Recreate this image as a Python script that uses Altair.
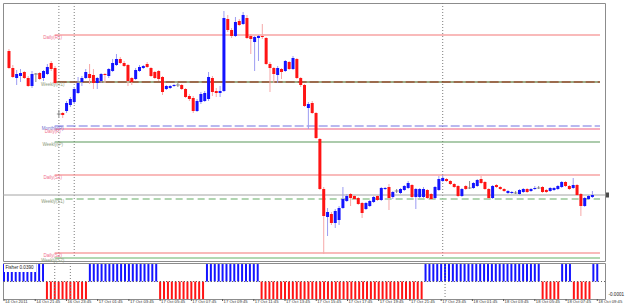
import altair as alt
import pandas as pd

# ---------------- data (15-minute candles) ----------------
open_ = [1.3850, 1.3833, 1.3823, 1.3825, 1.3829, 1.3823, 1.3815, 1.3827, 1.3828, 1.3823, 1.3827, 1.3838, 1.3833,
         1.3787, 1.3788, 1.3790, 1.3796, 1.3799, 1.3808, 1.3819, 1.3823,
         1.3827, 1.3826, 1.3818, 1.3820, 1.3827, 1.3825, 1.3830, 1.3836, 1.3842, 1.3838,
         1.3836, 1.3823, 1.3822, 1.3830, 1.3833, 1.3837, 1.3833, 1.3829, 1.3830, 1.3824,
         1.3812, 1.3813, 1.3815, 1.3816, 1.3816, 1.3812, 1.3805, 1.3803, 1.3790, 1.3799,
         1.3800, 1.3802, 1.3823, 1.3810, 1.3808, 1.3810, 1.3882, 1.3871, 1.3865, 1.3880,
         1.3877, 1.3883, 1.3865, 1.3859, 1.3863, 1.3865, 1.3863, 1.3837, 1.3833, 1.3826,
         1.3832, 1.3830, 1.3839, 1.3832, 1.3842, 1.3823, 1.3816, 1.3793, 1.3798, 1.3788,
         1.3762, 1.3712, 1.3684, 1.3687, 1.3678, 1.3681, 1.3693, 1.3700, 1.3707, 1.3705,
         1.3703, 1.3698, 1.3692, 1.3695, 1.3699, 1.3705, 1.3701, 1.3712, 1.3714, 1.3704,
         1.3710, 1.3708, 1.3711, 1.3713, 1.3716, 1.3704, 1.3704, 1.3704, 1.3711, 1.3707,
         1.3703, 1.3711, 1.3720, 1.3722, 1.3720, 1.3717, 1.3715, 1.3705, 1.3715, 1.3713,
         1.3713, 1.3715, 1.3722, 1.3719, 1.3712, 1.3703, 1.3716, 1.3714, 1.3712, 1.3708,
         1.3708, 1.3708, 1.3707, 1.3709, 1.3712, 1.3710, 1.3712, 1.3713, 1.3714, 1.3711,
         1.3710, 1.3711, 1.3712, 1.3714, 1.3719, 1.3715, 1.3713, 1.3716, 1.3707, 1.3695, 1.3702, 1.3704]

close = [1.3833, 1.3824, 1.3827, 1.3828, 1.3823, 1.3815, 1.3827, 1.3827, 1.3822, 1.3830, 1.3834, 1.3832, 1.3818,
         1.3787, 1.3786, 1.3798, 1.3802, 1.3812, 1.3818, 1.3823, 1.3829,
         1.3823, 1.3818, 1.3823, 1.3827, 1.3826, 1.3832, 1.3838, 1.3842, 1.3838, 1.3835,
         1.3820, 1.3819, 1.3831, 1.3834, 1.3835, 1.3834, 1.3825, 1.3823, 1.3822, 1.3809,
         1.3815, 1.3815, 1.3816, 1.3816, 1.3812, 1.3804, 1.3802, 1.3790, 1.3800, 1.3807,
         1.3808, 1.3824, 1.3809, 1.3808, 1.3810, 1.3883, 1.3871, 1.3865, 1.3879, 1.3876,
         1.3886, 1.3863, 1.3862, 1.3864, 1.3865, 1.3864, 1.3837, 1.3833, 1.3827, 1.3833,
         1.3829, 1.3840, 1.3832, 1.3843, 1.3823, 1.3816, 1.3795, 1.3797, 1.3788, 1.3763,
         1.3712, 1.3685, 1.3689, 1.3678, 1.3690, 1.3693, 1.3702, 1.3705, 1.3703, 1.3702,
         1.3697, 1.3688, 1.3698, 1.3700, 1.3704, 1.3701, 1.3713, 1.3713, 1.3703, 1.3709,
         1.3710, 1.3712, 1.3715, 1.3718, 1.3704, 1.3712, 1.3712, 1.3712, 1.3703, 1.3702,
         1.3714, 1.3722, 1.3723, 1.3720, 1.3717, 1.3714, 1.3705, 1.3712, 1.3712, 1.3713,
         1.3718, 1.3721, 1.3718, 1.3712, 1.3703, 1.3715, 1.3714, 1.3712, 1.3710, 1.3710,
         1.3709, 1.3708, 1.3711, 1.3712, 1.3709, 1.3712, 1.3713, 1.3713, 1.3709, 1.3709,
         1.3713, 1.3713, 1.3715, 1.3719, 1.3715, 1.3712, 1.3716, 1.3706, 1.3695, 1.3703, 1.3705, 1.3706]

high = [1.3852, 1.3836, 1.3831, 1.3832, 1.3830, 1.3825, 1.3830, 1.3828, 1.3829, 1.3831, 1.3837, 1.3840, 1.3835,
        1.3791, 1.3789, 1.3800, 1.3804, 1.3814, 1.3824, 1.3825, 1.3832,
        1.3837, 1.3832, 1.3824, 1.3828, 1.3828, 1.3833, 1.3842, 1.3847, 1.3844, 1.3840,
        1.3837, 1.3824, 1.3833, 1.3836, 1.3836, 1.3839, 1.3834, 1.3830, 1.3831, 1.3825,
        1.3816, 1.3816, 1.3817, 1.3818, 1.3817, 1.3813, 1.3807, 1.3805, 1.3802, 1.3809,
        1.3810, 1.3829, 1.3825, 1.3813, 1.3815, 1.3890, 1.3886, 1.3873, 1.3884, 1.3882,
        1.3889, 1.3886, 1.3867, 1.3865, 1.3866, 1.3877, 1.3864, 1.3839, 1.3834, 1.3835,
        1.3833, 1.3841, 1.3840, 1.3845, 1.3843, 1.3824, 1.3817, 1.3799, 1.3800, 1.3789,
        1.3763, 1.3714, 1.3693, 1.3689, 1.3692, 1.3695, 1.3714, 1.3707, 1.3708, 1.3706,
        1.3704, 1.3699, 1.3699, 1.3701, 1.3705, 1.3706, 1.3714, 1.3714, 1.3717, 1.3710,
        1.3712, 1.3713, 1.3716, 1.3720, 1.3717, 1.3713, 1.3713, 1.3714, 1.3712, 1.3708,
        1.3715, 1.3725, 1.3726, 1.3723, 1.3721, 1.3718, 1.3716, 1.3713, 1.3716, 1.3720,
        1.3719, 1.3722, 1.3725, 1.3720, 1.3713, 1.3716, 1.3717, 1.3715, 1.3713, 1.3711,
        1.3710, 1.3710, 1.3712, 1.3713, 1.3713, 1.3713, 1.3715, 1.3715, 1.3715, 1.3712,
        1.3714, 1.3714, 1.3716, 1.3720, 1.3720, 1.3716, 1.3723, 1.3717, 1.3708, 1.3704, 1.3706, 1.3710]

low = [1.3832, 1.3823, 1.3816, 1.3819, 1.3822, 1.3814, 1.3813, 1.3819, 1.3821, 1.3820, 1.3826, 1.3830, 1.3817,
       1.3784, 1.3783, 1.3788, 1.3794, 1.3797, 1.3807, 1.3815, 1.3822,
       1.3817, 1.3812, 1.3812, 1.3818, 1.3818, 1.3823, 1.3829, 1.3835, 1.3837, 1.3834,
       1.3815, 1.3816, 1.3821, 1.3829, 1.3832, 1.3833, 1.3824, 1.3822, 1.3820, 1.3806,
       1.3811, 1.3812, 1.3814, 1.3814, 1.3811, 1.3803, 1.3800, 1.3788, 1.3789, 1.3797,
       1.3799, 1.3800, 1.3805, 1.3804, 1.3804, 1.3809, 1.3869, 1.3863, 1.3864, 1.3875,
       1.3876, 1.3862, 1.3847, 1.3830, 1.3840, 1.3862, 1.3836, 1.3809, 1.3818, 1.3818,
       1.3822, 1.3829, 1.3831, 1.3831, 1.3822, 1.3814, 1.3794, 1.3772, 1.3787, 1.3762,
       1.3711, 1.3647, 1.3665, 1.3676, 1.3673, 1.3676, 1.3692, 1.3699, 1.3695, 1.3701,
       1.3696, 1.3683, 1.3691, 1.3694, 1.3698, 1.3700, 1.3700, 1.3711, 1.3691, 1.3702,
       1.3708, 1.3707, 1.3710, 1.3712, 1.3703, 1.3692, 1.3703, 1.3703, 1.3702, 1.3701,
       1.3702, 1.3710, 1.3719, 1.3719, 1.3716, 1.3713, 1.3704, 1.3704, 1.3711, 1.3712,
       1.3712, 1.3714, 1.3717, 1.3711, 1.3702, 1.3702, 1.3713, 1.3711, 1.3709, 1.3707,
       1.3707, 1.3707, 1.3706, 1.3708, 1.3708, 1.3709, 1.3711, 1.3712, 1.3708, 1.3708,
       1.3709, 1.3710, 1.3711, 1.3713, 1.3714, 1.3711, 1.3712, 1.3705, 1.3685, 1.3694, 1.3701, 1.3703]

# Fisher histogram (sign only - every bar fills the sub-window)
fisher = [1, 1, 1, 1, 1, 1, 1, 1, 1, 1, 1,
          -1, -1, -1, -1, -1, -1, -1, -1, -1, -1, -1,
          1, 1, 1, 1, 1, 1, 1, 1, 1, 1, 1, 1, 1, 1, 1, 1, 1, 1,
          -1, -1, -1, -1, -1, -1, -1, -1, -1, -1, -1, -1,
          1, 1, 1, 1, 1, 1, 1, 1, 1, 1, 1, 1, 1, 1,
          -1, -1, -1, -1, -1, -1, -1, -1, -1, -1, -1, -1, -1, -1, -1, -1, -1, -1, -1, -1, -1,
          -1, -1, -1, -1, -1, -1, -1, -1, -1, -1, -1, -1, -1, -1, -1, -1, -1, -1, -1, -1, -1,
          1, 1, 1, 1, 1, 1, 1, 1, 1, 1, 1, 1, 1, 1, 1, 1, 1, 1, 1, 1, 1, 1, 1, 1, 1, 1, 1, 1, 1, 1,
          -1, -1, -1, -1, -1,
          1, 1, 1,
          -1, -1, -1, -1, -1,
          1, 1]

# time-axis labels (bar index -> text)
label_idx = [0, 8, 16, 24, 32, 40, 48, 56, 64, 72, 80, 88, 96, 104, 112, 120, 128, 136, 144, 152]
label_txt = ["14 Oct 2011", "14 Oct 21:45", "16 Oct 23:45", "17 Oct 01:45", "17 Oct 03:45",
             "17 Oct 05:45", "17 Oct 07:45", "17 Oct 09:45", "17 Oct 11:45", "17 Oct 13:45",
             "17 Oct 15:45", "17 Oct 17:45", "17 Oct 19:45", "17 Oct 21:45", "17 Oct 23:45",
             "18 Oct 01:45", "18 Oct 03:45", "18 Oct 05:45", "18 Oct 07:45", "18 Oct 09:45"]

# period separators (bar index)
separators = [13, 17, 113]

# pivot levels
level_names = ["Daily(R1)", "Weekly(R1)", "Monthly(P)", "Daily(P)", "Weekly(P)",
               "Daily(S1)", "Weekly(S1)", "Daily(S2)", "Weekly(S2)"]
level_prices = [1.3866, 1.3819, 1.3775, 1.3772, 1.3759, 1.3726, 1.3702, 1.3648, 1.3643]
bid_price = 1.3706
level_start = 11.9

# ---------------- styling ----------------
FONT = "Liberation Sans"
W, H_MAIN, H_SUB = 602, 258, 36
XDOM = [-0.256, 153.98]
YDOM = [1.3640, 1.3898]

line_style = {
    "Daily(R1)": ("#f47676", 1.2, None),
    "Weekly(R1)": ("#7a3a12", 1.6, None),
    "Monthly(P)": ("#7272e2", 1.2, [9, 3]),
    "Daily(P)": ("#f494aa", 1.6, None),
    "Weekly(P)": ("#5a985a", 1.1, None),
    "Daily(S1)": ("#f47676", 1.2, None),
    "Weekly(S1)": ("#98c898", 1.5, [7, 4]),
    "Daily(S2)": ("#f47676", 1.2, None),
    "Weekly(S2)": ("#b2d8b2", 2.0, None),
}
label_color = {"Daily": "#f0708e", "Weekly": "#8c9a7c", "Monthly": "#7070d0"}

idx = list(range(len(open_)))
bars = pd.DataFrame({"i": idx, "open": open_, "high": high, "low": low, "close": close})
bars["dir"] = ["up" if c > o else ("down" if c < o else "doji") for o, c in zip(open_, close)]
bars["wick_col"] = bars["dir"].map({"up": "#9c9cf2", "down": "#f6a8a8", "doji": "#8c8c8c"})
bars["body_col"] = bars["dir"].map({"up": "#1414ff", "down": "#ff1414", "doji": "#707070"})

xs = alt.Scale(domain=XDOM, nice=False, zero=False)
ys = alt.Scale(domain=YDOM, nice=False, zero=False)
ytick_vals = [round(1.38927 - 0.001568 * k, 5) for k in range(17)]

X = alt.X("i:Q", scale=xs, axis=None)

sep_df = pd.DataFrame({"i": separators})
seps = alt.Chart(sep_df).mark_rule(color="#7c7c7c", strokeWidth=1, strokeDash=[1, 2]).encode(x=X)

layers = [seps]
for name, price in zip(level_names, level_prices):
    col, sw, dash = line_style[name]
    d = pd.DataFrame({"x0": [level_start], "x1": [XDOM[1]], "p": [price]})
    kw = dict(color=col, strokeWidth=sw)
    if dash:
        kw["strokeDash"] = dash
    layers.append(alt.Chart(d).mark_rule(**kw).encode(
        x=alt.X("x0:Q", scale=xs, axis=None), x2="x1:Q",
        y=alt.Y("p:Q", scale=ys, axis=None)))
    if name == "Weekly(R1)":
        layers.append(alt.Chart(d).mark_rule(color="#9cc49c", strokeWidth=1.6, strokeDash=[3, 9]).encode(
            x=alt.X("x0:Q", scale=xs, axis=None), x2="x1:Q",
            y=alt.Y("p:Q", scale=ys, axis=None)))

lab_df = pd.DataFrame({"name": level_names, "p": level_prices, "x": [11.4] * len(level_names)})
lab_df["col"] = [label_color[n.split("(")[0]] for n in level_names]
labels = alt.Chart(lab_df).mark_text(font=FONT, fontSize=4.5, align="center", baseline="middle", dy=3).encode(
    x=alt.X("x:Q", scale=xs, axis=None), y=alt.Y("p:Q", scale=ys, axis=None),
    text="name:N", color=alt.Color("col:N", scale=None))
layers.append(labels)

bid_df = pd.DataFrame({"p": [bid_price]})
layers.append(alt.Chart(bid_df).mark_rule(color="#a4a4a4", strokeWidth=1).encode(
    y=alt.Y("p:Q", scale=ys, axis=None)))

wicks = alt.Chart(bars).mark_rule(strokeWidth=1).encode(
    x=X,
    y=alt.Y("low:Q", scale=ys, axis=alt.Axis(orient="right", values=ytick_vals, labels=False, tickSize=3,
                                              title=None, grid=False, domainColor="#6c6c88",
                                              tickColor="#6c6c88", domainWidth=1.2)),
    y2="high:Q",
    color=alt.Color("wick_col:N", scale=None))
bodies = alt.Chart(bars).transform_filter("datum.dir != 'doji'").mark_bar(size=3).encode(
    x=X, y=alt.Y("open:Q", scale=ys, axis=None), y2="close:Q",
    color=alt.Color("body_col:N", scale=None))
dojis = alt.Chart(bars).transform_filter("datum.dir == 'doji'").mark_tick(
    orient="horizontal", size=4, thickness=1, color="#6c6c6c").encode(
    x=X, y=alt.Y("close:Q", scale=ys, axis=None))
marker = alt.Chart(bid_df).mark_tick(orient="vertical", size=5, thickness=3, color="#000000").encode(
    x=alt.value(W + 2.5), y=alt.Y("p:Q", scale=ys, axis=None))
layers += [wicks, bodies, dojis, marker]

main = alt.layer(*layers).properties(width=W, height=H_MAIN)

# ---------------- sub-window (Fisher) ----------------
fis = pd.DataFrame({"i": idx, "fisher": fisher, "zero": [0] * len(idx)})
fis["col"] = ["#1414ff" if v > 0 else "#ff1414" for v in fisher]
fscale = alt.Scale(domain=[-1, 1.06], nice=False, zero=False)

fbars = alt.Chart(fis).mark_rule(strokeWidth=2).encode(
    x=alt.X("i:Q", scale=xs, axis=None),
    y=alt.Y("fisher:Q", scale=fscale, axis=alt.Axis(orient="right", values=[1.0], labels=False, tickSize=3,
                                                     title=None, grid=False, domainColor="#6c6c88",
                                                     tickColor="#6c6c88", domainWidth=1.2)),
    y2="zero:Q",
    color=alt.Color("col:N", scale=None))
zero_df = pd.DataFrame({"z": [0]})
zline = alt.Chart(zero_df).mark_rule(color="#606060", strokeWidth=1, strokeDash=[1, 2]).encode(
    y=alt.Y("z:Q", scale=fscale, axis=None))
fseps = alt.Chart(sep_df).mark_rule(color="#7c7c7c", strokeWidth=1, strokeDash=[1, 2]).encode(
    x=alt.X("i:Q", scale=xs, axis=None))
box_df = pd.DataFrame({"t": ["Fisher 0.0390"]})
fbox = alt.Chart(box_df).mark_rect(color="white").encode(
    x=alt.value(1), x2=alt.value(33), y=alt.value(1), y2=alt.value(9))
ftext = alt.Chart(box_df).mark_text(font=FONT, fontSize=4.6, align="left", baseline="middle",
                                     color="#222222").encode(x=alt.value(2.5), y=alt.value(5), text="t:N")
rlab_df = pd.DataFrame({"t": ["-0.0001"]})
rlab = alt.Chart(rlab_df).mark_text(font=FONT, fontSize=4.6, align="left", baseline="middle",
                                     color="#222222").encode(x=alt.value(W + 3.5), y=alt.value(32), text="t:N")

# time labels under the sub-window
tl_df = pd.DataFrame({"i": label_idx, "t": label_txt})
tticks = alt.Chart(tl_df).mark_rule(color="#555555", strokeWidth=1).encode(
    x=alt.X("i:Q", scale=xs, axis=None), y=alt.value(H_SUB), y2=alt.value(H_SUB + 2))
ttext = alt.Chart(tl_df).mark_text(font=FONT, fontSize=4.2, align="left", baseline="top", dx=1,
                                    color="#333333").encode(
    x=alt.X("i:Q", scale=xs, axis=None), y=alt.value(H_SUB + 0.5), text="t:N")

sub = alt.layer(fbars, zline, fseps, fbox, ftext, rlab, tticks, ttext).properties(width=W, height=H_SUB)

chart = alt.vconcat(main, sub, spacing=2, bounds="flush").properties(
    padding={"left": 2, "top": 2, "right": 0, "bottom": 0},
    background="white",
).configure_view(stroke="#8c8c8c", strokeWidth=1)

chart.save("out.html", embed_options={"renderer": "svg", "actions": False})
